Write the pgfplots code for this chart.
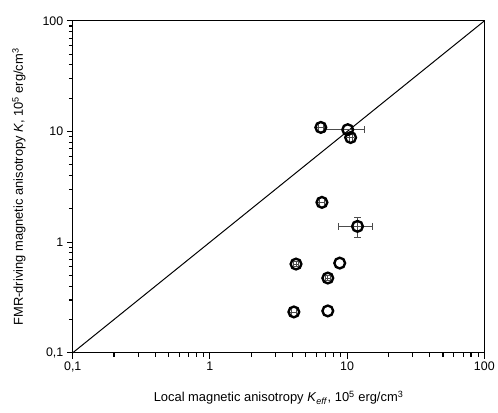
\documentclass[border=0pt]{standalone}
\usepackage{fontspec}
\setmainfont{Liberation Sans}
\usepackage{pgfplots}
\pgfplotsset{compat=1.18}

\begin{document}
\begin{tikzpicture}
\begin{axis}[
    scale only axis,
    width=413bp, height=333bp,
    xmode=log, ymode=log,
    xmin=0.1, xmax=100, ymin=0.1, ymax=100,
    xtick={0.1,1,10,100}, ytick={0.1,1,10,100},
    xticklabels={{0,1},1,10,100},
    yticklabels={{0,1},1,10,100},
    minor xtick={0.2,0.3,0.4,0.5,0.6,0.7,0.8,0.9,2,3,4,5,6,7,8,9,20,30,40,50,60,70,80,90},
    minor ytick={0.2,0.3,0.4,0.5,0.6,0.7,0.8,0.9,2,3,4,5,6,7,8,9,20,30,40,50,60,70,80,90},
    xtick pos=bottom, ytick pos=left,
    xtick align=outside, ytick align=outside,
    tickwidth=6bp, subtickwidth=4bp,
    every major tick/.append style={black, line width=1.1pt},
    every minor tick/.append style={black, line width=1.1pt},
    axis line style={line width=0.9pt},
    ticklabel style={font=\fontsize{12.5}{15}\selectfont},
    xlabel={Local magnetic anisotropy \textit{K}\textsubscript{\textit{eff}}, 10\textsuperscript{5} erg/cm\textsuperscript{3}},
    ylabel={FMR-driving magnetic anisotropy \textit{K}, 10\textsuperscript{5} erg/cm\textsuperscript{3}},
    every axis x label/.style={at={([yshift=-49bp]axis description cs:0.5,0)}, anchor=base,
        font=\fontsize{13}{15}\selectfont},
    every axis y label/.style={at={([xshift=-50bp]axis description cs:0,0.5)}, anchor=base, rotate=90,
        font=\fontsize{13}{15}\selectfont},
    clip=false,
]
% y = x reference line
\addplot[black, line width=1pt] coordinates {(0.1,0.1) (100,100)};

% points with error bars
\addplot[
    only marks, mark=o, black,
    mark size=5.4pt,
    mark options={line width=2.4pt},
    error bars/.cd,
      x dir=both, x explicit,
      y dir=both, y explicit,
      error bar style={line width=0.7pt, black!70},
      error mark options={rotate=90, line width=0.7pt, black!70, mark size=3.5pt},
] table[x=x, y=y, x error=ex, y error=ey] {
x      y      ex    ey
6.43   10.9   0.25  0
10.1   10.4   3.3   0
10.6   8.83   0.3   0
6.55   2.29   0.25  0
11.9   1.39   3.3   0.28
4.24   0.634  0.2   0.03
7.23   0.474  0.3   0.025
4.09   0.234  0.2   0
};

% points without error bars
\addplot[
    only marks, mark=o, black,
    mark size=5.4pt,
    mark options={line width=2.4pt},
] table[x=x, y=y] {
x      y
8.83   0.647
7.23   0.239
};
\end{axis}
\path ([shift={(-73bp,-60bp)}]current axis.south west) rectangle ([shift={(12bp,21bp)}]current axis.north east);
\end{tikzpicture}
\end{document}
